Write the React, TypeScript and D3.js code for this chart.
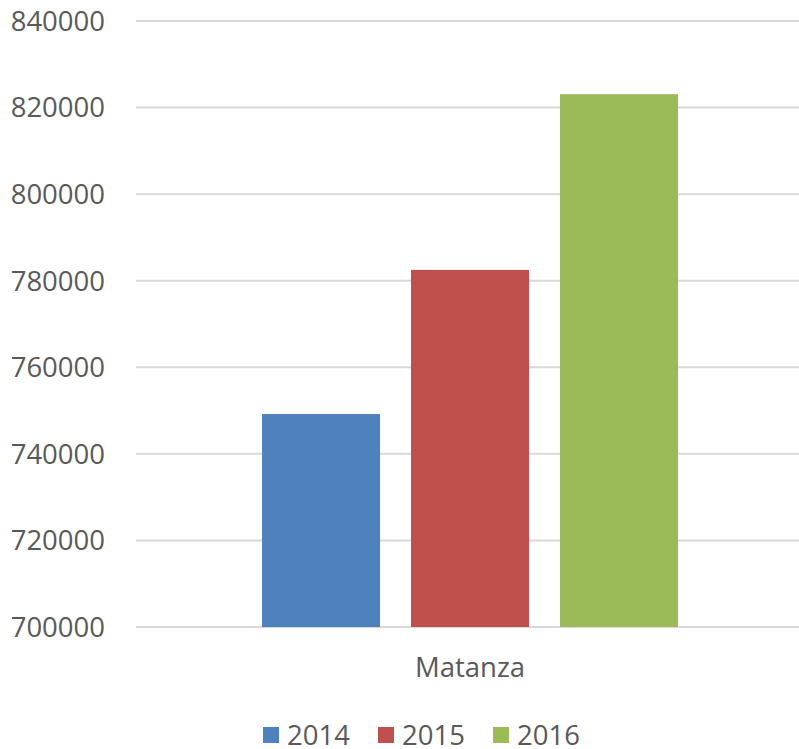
import React from 'react';
import * as d3 from 'd3';

// data
const categories = ['Matanza'];
const years = ['2014', '2015', '2016'];
const values2014 = [749200];
const values2015 = [782500];
const values2016 = [823100];
const yTicks = [700000, 720000, 740000, 760000, 780000, 800000, 820000, 840000];
const colors = ['#4f81bd', '#c0504d', '#9bbb59'];

const W = 799;
const H = 749;
const FONT = '"Open Sans", sans-serif';

const App = () => {
  const series = [values2014, values2015, values2016];

  const y = d3.scaleLinear().domain([700000, 840000]).range([627, 21]);
  const x0 = d3.scaleBand().domain(categories).range([136, 804]).paddingOuter(0.303).paddingInner(0);
  const x1 = d3.scaleBand().domain(years).range([0, x0.bandwidth()]).paddingInner(0.208).paddingOuter(0);

  const legendX = d3.scaleBand().domain(years).range([263, 608]);

  return (
    <svg width={W} height={H} style={{ position: 'absolute', left: 0, top: 0, background: '#fff' }}>
      {/* gridlines */}
      {yTicks.map(t => (
        <line key={t} x1={136} x2={W} y1={y(t)} y2={y(t)} stroke='#d9d9d9' strokeWidth={2} />
      ))}
      {/* y labels */}
      {yTicks.map(t => (
        <text key={'l' + t} x={105} y={y(t)} dy='0.36em' textAnchor='end'
          fontFamily={FONT} fontSize={27.5} fill='#595959'>{t}</text>
      ))}
      {/* bars */}
      {categories.map((c, ci) => (
        <g key={c} transform={`translate(${x0(c)},0)`}>
          {years.map((yr, si) => (
            <rect key={yr} x={x1(yr)} width={x1.bandwidth()}
              y={y(series[si][ci])} height={y(700000) - y(series[si][ci])} fill={colors[si]} />
          ))}
          <text x={x0.bandwidth() / 2} y={677} textAnchor='middle'
            fontFamily={FONT} fontSize={27.5} fill='#595959'>{c}</text>
        </g>
      ))}
      {/* legend */}
      {years.map((yr, i) => (
        <g key={'lg' + yr} transform={`translate(${legendX(yr)},0)`}>
          <rect x={0} y={727} width={16} height={16} fill={colors[i]} />
          <text x={24} y={745} fontFamily={FONT} fontSize={27.5} fill='#595959'>{yr}</text>
        </g>
      ))}
    </svg>
  );
};

export default App;
